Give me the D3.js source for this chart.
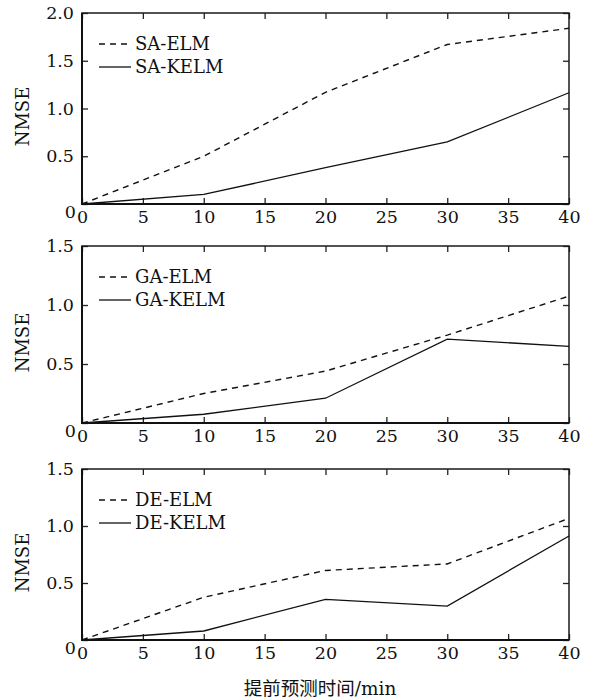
<!DOCTYPE html>
<html>
<head>
<meta charset="utf-8">
<script src="https://cdn.jsdelivr.net/npm/d3@7"></script>
<style>
  html, body { margin: 0; padding: 0; background: #fff; }
  svg { display: block; }
  text { font-family: "DejaVu Serif", "Liberation Serif", serif; fill: #111; }
</style>
</head>
<body>
<svg id="chart" width="590" height="699"></svg>
<script>
// ---- Data ----
const xValues = [0, 10, 20, 30, 40];
const xTicks = [0, 5, 10, 15, 20, 25, 30, 35, 40];

const panelNames = ["SA", "GA", "DE"];
const yMaxes = [2.0, 1.5, 1.5];
const yTicksTop = [0, 0.5, 1.0, 1.5, 2.0];
const yTicksOther = [0, 0.5, 1.0, 1.5];

const saELM  = [0, 0.50, 1.17, 1.67, 1.84];
const saKELM = [0, 0.10, 0.38, 0.65, 1.165];
const gaELM  = [0, 0.25, 0.44, 0.745, 1.075];
const gaKELM = [0, 0.074, 0.21, 0.71, 0.65];
const deELM  = [0, 0.375, 0.61, 0.667, 1.067];
const deKELM = [0, 0.079, 0.357, 0.298, 0.912];

const legendELM  = ["SA-ELM", "GA-ELM", "DE-ELM"];
const legendKELM = ["SA-KELM", "GA-KELM", "DE-KELM"];
const yLabel = "NMSE";
const xLabel = "提前预测时间/min";

// ---- Layout ----
const svg = d3.select("#chart");
const left = 82, right = 569;
const panelBox = [
  { top: 13,  bottom: 204 },
  { top: 246, bottom: 423 },
  { top: 469, bottom: 640 }
];
const elmSeries = [saELM, gaELM, deELM];
const kelmSeries = [saKELM, gaKELM, deKELM];
const yTickSets = [yTicksTop, yTicksOther, yTicksOther];

const x = d3.scaleLinear().domain([0, 40]).range([left, right]);
const fmt = v => v === 0 ? "0" : d3.format(".1f")(v);
const serif = "DejaVu Serif";
const tickFont = 17.5;

panelBox.forEach((pb, i) => {
  const y = d3.scaleLinear().domain([0, yMaxes[i]]).range([pb.bottom, pb.top]);
  const g = svg.append("g");
  const tickLen = 6;

  // inner ticks bottom
  g.append("g").attr("transform", `translate(0,${pb.bottom})`)
    .call(d3.axisBottom(x).tickValues(xTicks).tickSizeInner(-tickLen).tickSizeOuter(0).tickFormat(d => d))
    .attr("font-family", serif)
    .call(a => a.select(".domain").remove())
    .call(a => a.selectAll("line").attr("stroke", "#222").attr("stroke-width", 1.3))
    .call(a => a.selectAll("text").attr("y", 7).attr("dy", "0.71em")
      .attr("font-size", tickFont).attr("fill", "#111"));

  // top ticks
  g.append("g").attr("transform", `translate(0,${pb.top})`)
    .call(d3.axisTop(x).tickValues(xTicks).tickSizeInner(-tickLen).tickSizeOuter(0).tickFormat(""))
    .call(a => a.select(".domain").remove())
    .call(a => a.selectAll("line").attr("stroke", "#222").attr("stroke-width", 1.3));

  // left axis
  g.append("g").attr("transform", `translate(${left},0)`)
    .call(d3.axisLeft(y).tickValues(yTickSets[i]).tickSizeInner(0).tickSizeOuter(0).tickPadding(8).tickFormat(fmt))
    .attr("font-family", serif)
    .call(a => a.select(".domain").remove())
    .call(a => a.selectAll("text").attr("font-size", tickFont).attr("fill", "#111"))
    .call(a => a.selectAll(".tick").filter(d => d === 0).select("text").attr("dy", "0.75em").attr("x", -6));

  // left side ticks (inward)
  g.append("g").attr("transform", `translate(${left},0)`)
    .call(d3.axisRight(y).tickValues(yTickSets[i]).tickSizeInner(tickLen).tickSizeOuter(0).tickFormat(""))
    .call(a => a.select(".domain").remove())
    .call(a => a.selectAll("line").attr("stroke", "#222").attr("stroke-width", 1.3));

  // right side ticks (inward)
  g.append("g").attr("transform", `translate(${right},0)`)
    .call(d3.axisLeft(y).tickValues(yTickSets[i]).tickSizeInner(tickLen).tickSizeOuter(0).tickFormat(""))
    .call(a => a.select(".domain").remove())
    .call(a => a.selectAll("line").attr("stroke", "#222").attr("stroke-width", 1.3));

  // frame
  g.append("rect")
    .attr("x", left).attr("y", pb.top)
    .attr("width", right - left).attr("height", pb.bottom - pb.top)
    .attr("fill", "none").attr("stroke", "#1a1a1a").attr("stroke-width", 1.5);
  // heavier left & bottom
  g.append("path")
    .attr("d", `M${left},${pb.top}V${pb.bottom}H${right}`)
    .attr("fill", "none").attr("stroke", "#111").attr("stroke-width", 2);

  // lines
  const line = d3.line().x((d, j) => x(xValues[j])).y(d => y(d));
  g.append("path").datum(elmSeries[i])
    .attr("d", line).attr("fill", "none").attr("stroke", "#111")
    .attr("stroke-width", 1.4).attr("stroke-dasharray", "6,5");
  g.append("path").datum(kelmSeries[i])
    .attr("d", line).attr("fill", "none").attr("stroke", "#111")
    .attr("stroke-width", 1.3);

  // legend
  const lg = g.append("g");
  const rows = [
    { name: legendELM[i], dash: "6,5", dy: 31 },
    { name: legendKELM[i], dash: null, dy: 54 }
  ];
  rows.forEach(r => {
    const yy = pb.top + r.dy;
    lg.append("line").attr("x1", 99).attr("x2", 131).attr("y1", yy).attr("y2", yy)
      .attr("stroke", "#111").attr("stroke-width", 1.3)
      .attr("stroke-dasharray", r.dash);
    lg.append("text").attr("x", 135).attr("y", yy).attr("dy", "0.36em")
      .attr("font-size", 18).text(r.name);
  });

  // y label
  const cy = (pb.top + pb.bottom) / 2 + 8;
  g.append("text")
    .attr("transform", `translate(23,${cy}) rotate(-90)`)
    .attr("text-anchor", "middle").attr("dy", "0.36em")
    .attr("font-size", 18).text(yLabel);
});

// x label
svg.append("text")
  .attr("x", 320).attr("y", 688).attr("dy", "0.36em")
  .attr("text-anchor", "middle").attr("font-size", 18.5)
  .style("font-family", "'DejaVu Serif', 'Noto Sans CJK SC', serif")
  .text(xLabel);
</script>
</body>
</html>
